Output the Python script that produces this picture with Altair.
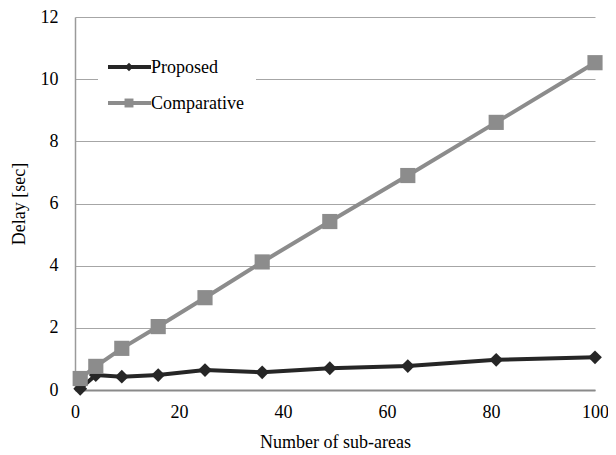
import altair as alt
import pandas as pd

sub_areas = [1, 4, 9, 16, 25, 36, 49, 64, 81, 100]
proposed = [0.04, 0.48, 0.43, 0.48, 0.64, 0.57, 0.70, 0.77, 0.97, 1.05]
comparative = [0.37, 0.76, 1.34, 2.04, 2.97, 4.12, 5.42, 6.90, 8.61, 10.53]
series_names = ["Proposed", "Comparative"]
series_colors = ["#262626", "#8c8c8c"]
y_ticks = [0, 2, 4, 6, 8, 10, 12]
x_ticks = [0, 20, 40, 60, 80, 100]

rows = []
for x, p, c in zip(sub_areas, proposed, comparative):
    rows.append({"x": x, "delay": p, "series": "Proposed"})
    rows.append({"x": x, "delay": c, "series": "Comparative"})
df = pd.DataFrame(rows)

FONT = "Liberation Serif"

xs = alt.Scale(domain=[0, 100], nice=False)
ys = alt.Scale(domain=[0, 12], nice=False)
color = alt.Color("series:N", scale=alt.Scale(domain=series_names, range=series_colors), legend=None)
shape = alt.Shape("series:N", scale=alt.Scale(domain=series_names, range=["diamond", "square"]), legend=None)
size = alt.Size("series:N", scale=alt.Scale(domain=series_names, range=[190, 230]), legend=None)

base = alt.Chart(df).encode(
    x=alt.X("x:Q", scale=xs, axis=alt.Axis(values=x_ticks, title="Number of sub-areas", grid=False,
                                             ticks=False, domainColor="#8a8a8a", domainWidth=2,
                                             labelFlush=False, labelPadding=13, titlePadding=12)),
    y=alt.Y("delay:Q", scale=ys, axis=alt.Axis(values=y_ticks, title="Delay [sec]", grid=True,
                                                gridColor="#a6a6a6", gridWidth=1, ticks=False,
                                                domainColor="#9a9a9a", domainWidth=1.5,
                                                labelPadding=17, titlePadding=12)),
    color=color,
)

lines = base.mark_line(strokeWidth=4)
points = base.mark_point(filled=True, opacity=1).encode(shape=shape, size=size)

# Legend (white box interrupting grid, line+marker symbols, text)
leg_df = pd.DataFrame({"series": series_names, "row": [0, 1]})
leg_box = alt.Chart(pd.DataFrame({"a": [0]})).mark_rect(color="white").encode(
    x=alt.value(23), x2=alt.value(181), y=alt.value(33), y2=alt.value(103))
leg_layers = []
for i, (name, col, shp, sz) in enumerate(zip(series_names, series_colors, ["diamond", "square"], [70, 80])):
    yy = 50 + i * 36
    d = alt.Chart(leg_df).transform_filter(alt.datum.series == name)
    leg_layers.append(d.mark_rule(color=col, strokeWidth=4).encode(
        x=alt.value(33), x2=alt.value(76), y=alt.value(yy)))
    leg_layers.append(d.mark_point(shape=shp, filled=True, color=col, opacity=1, size=sz).encode(
        x=alt.value(54), y=alt.value(yy)))
    leg_layers.append(d.mark_text(align="left", baseline="middle", font=FONT, fontSize=18, color="#000").encode(
        x=alt.value(76), y=alt.value(yy + 1), text="series:N"))

chart = alt.layer(lines, points, leg_box, *leg_layers).properties(
    width=520, height=373,
    autosize=alt.AutoSizeParams(type="none"),
    padding={"left": 67, "top": 9, "right": 13, "bottom": 62},
).configure_view(stroke=None).configure_axis(
    labelFont=FONT, titleFont=FONT, labelFontSize=18, titleFontSize=18,
    labelColor="#000", titleColor="#000", titleFontWeight="normal",
)

chart.save("out.html", embed_options={"renderer": "svg", "actions": False})
